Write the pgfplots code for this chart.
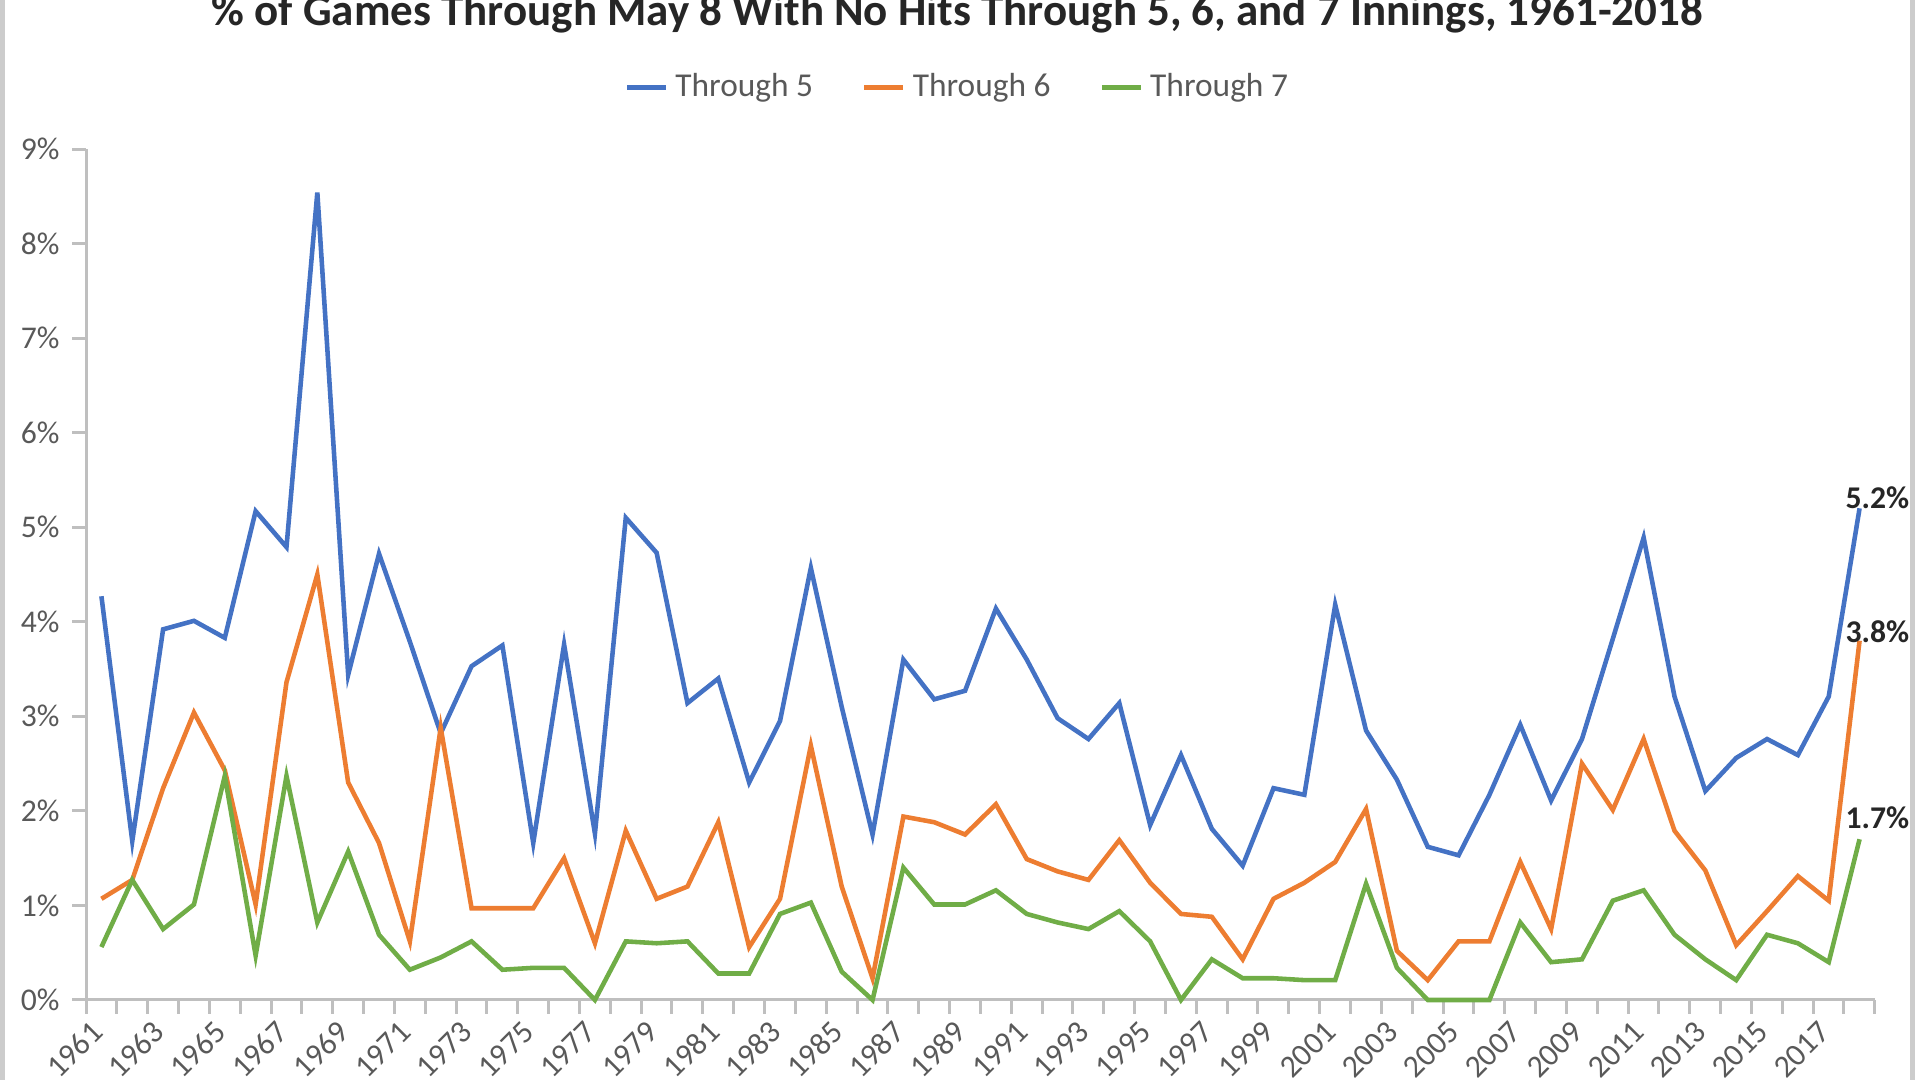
\documentclass[border=0pt]{standalone}
\usepackage{fontspec}
\setmainfont{Carlito}
\usepackage{pgfplots}
\pgfplotsset{compat=1.18}
\definecolor{c5}{HTML}{4472C4}
\definecolor{c6}{HTML}{ED7D31}
\definecolor{c7}{HTML}{70AD47}
\definecolor{axgray}{HTML}{BFBFBF}
\definecolor{txtgray}{HTML}{595959}
\begin{document}
\begin{tikzpicture}
\path[use as bounding box, clip] (0,0) rectangle (191.7mm,108mm);
\draw[axgray!80, line width=0.5mm] (0.25mm,-1mm) rectangle (191.2mm,109mm);
\begin{axis}[
  scale only axis,
  width=178.9mm, height=85.1mm,
  at={(8.6mm,8mm)}, anchor=south west,
  xmin=1960.5, xmax=2018.5, ymin=0, ymax=9,
  axis x line=bottom, axis y line=left,
  axis line style={axgray, line width=0.3mm, -},
  tick align=outside,
  tick style={axgray, line width=0.3mm},
  major tick length=1.4mm, minor tick length=1.4mm,
  xtick={1961,1963,...,2017},
  minor xtick={1960.5,1961.5,...,2018.5},
  major x tick style={draw=none},
  ytick={0,1,...,9},
  /pgf/number format/assume math mode=true,
  /pgf/number format/1000 sep={},
  yticklabel={\pgfmathprintnumber{\tick}\%},
  xticklabel style={rotate=45, anchor=east, yshift=-0.6mm, font=\fontsize{9}{10}\selectfont, text=txtgray},
  yticklabel style={font=\fontsize{9}{10}\selectfont, text=txtgray},
  title={\% of Games Through May 8 With No Hits Through 5, 6, and 7 Innings, 1961-2018},
  title style={at={(0.487,1.134)}, anchor=center, font=\bfseries\fontsize{12.8}{14}\selectfont, text=black!85},
  legend columns=3,
  legend style={at={(0.4885,1.072)}, anchor=center, draw=none, fill=none,
    font=\fontsize{9.5}{11}\selectfont, text=txtgray,
    /tikz/every even column/.append style={column sep=4.2mm}},
  legend image code/.code={\draw[#1] (0mm,0mm) -- (3.9mm,0mm);},
  every axis plot/.append style={line width=1.3pt, mark=none},
  clip=false,
]
\addplot[c5] coordinates {
(1961,4.27) (1962,1.68) (1963,3.92) (1964,4.01) (1965,3.83) (1966,5.17) (1967,4.79) (1968,8.54)
(1969,3.44) (1970,4.72) (1971,3.79) (1972,2.82) (1973,3.53) (1974,3.75) (1975,1.66) (1976,3.76)
(1977,1.76) (1978,5.10) (1979,4.73) (1980,3.14) (1981,3.40) (1982,2.30) (1983,2.95) (1984,4.57)
(1985,3.10) (1986,1.75) (1987,3.60) (1988,3.18) (1989,3.27) (1990,4.14) (1991,3.60) (1992,2.98)
(1993,2.76) (1994,3.14) (1995,1.85) (1996,2.59) (1997,1.81) (1998,1.42) (1999,2.24) (2000,2.17)
(2001,4.18) (2002,2.85) (2003,2.33) (2004,1.62) (2005,1.53) (2006,2.17) (2007,2.91) (2008,2.11)
(2009,2.76) (2010,3.82) (2011,4.89) (2012,3.21) (2013,2.21) (2014,2.56) (2015,2.76) (2016,2.59)
(2017,3.21) (2018,5.20)}
node[pos=1, anchor=west, xshift=-2.8mm, yshift=1.1mm, font=\bfseries\fontsize{9}{10}\selectfont, text=black!85]{5.2\%};
\addlegendentry{Through 5}
\addplot[c6] coordinates {
(1961,1.07) (1962,1.27) (1963,2.24) (1964,3.04) (1965,2.43) (1966,1.01) (1967,3.36) (1968,4.50)
(1969,2.30) (1970,1.66) (1971,0.62) (1972,2.88) (1973,0.97) (1974,0.97) (1975,0.97) (1976,1.50)
(1977,0.60) (1978,1.79) (1979,1.07) (1980,1.20) (1981,1.88) (1982,0.56) (1983,1.07) (1984,2.69)
(1985,1.20) (1986,0.23) (1987,1.94) (1988,1.88) (1989,1.75) (1990,2.07) (1991,1.49) (1992,1.36)
(1993,1.27) (1994,1.69) (1995,1.24) (1996,0.91) (1997,0.88) (1998,0.43) (1999,1.07) (2000,1.24)
(2001,1.46) (2002,2.02) (2003,0.52) (2004,0.21) (2005,0.62) (2006,0.62) (2007,1.46) (2008,0.75)
(2009,2.50) (2010,2.01) (2011,2.76) (2012,1.79) (2013,1.37) (2014,0.58) (2015,0.94) (2016,1.31)
(2017,1.05) (2018,3.80)}
node[pos=1, anchor=west, xshift=-2.8mm, yshift=0.9mm, font=\bfseries\fontsize{9}{10}\selectfont, text=black!85]{3.8\%};
\addlegendentry{Through 6}
\addplot[c7] coordinates {
(1961,0.56) (1962,1.27) (1963,0.75) (1964,1.01) (1965,2.37) (1966,0.47) (1967,2.37) (1968,0.82)
(1969,1.57) (1970,0.69) (1971,0.32) (1972,0.45) (1973,0.62) (1974,0.32) (1975,0.34) (1976,0.34)
(1977,0.00) (1978,0.62) (1979,0.60) (1980,0.62) (1981,0.28) (1982,0.28) (1983,0.91) (1984,1.03)
(1985,0.30) (1986,0.00) (1987,1.40) (1988,1.01) (1989,1.01) (1990,1.16) (1991,0.91) (1992,0.82)
(1993,0.75) (1994,0.94) (1995,0.62) (1996,0.00) (1997,0.43) (1998,0.23) (1999,0.23) (2000,0.21)
(2001,0.21) (2002,1.23) (2003,0.34) (2004,0.00) (2005,0.00) (2006,0.00) (2007,0.82) (2008,0.40)
(2009,0.43) (2010,1.05) (2011,1.16) (2012,0.69) (2013,0.43) (2014,0.21) (2015,0.69) (2016,0.60)
(2017,0.40) (2018,1.70)}
node[pos=1, anchor=west, xshift=-2.8mm, yshift=2.2mm, font=\bfseries\fontsize{9}{10}\selectfont, text=black!85]{1.7\%};
\addlegendentry{Through 7}
\end{axis}
\end{tikzpicture}
\end{document}
